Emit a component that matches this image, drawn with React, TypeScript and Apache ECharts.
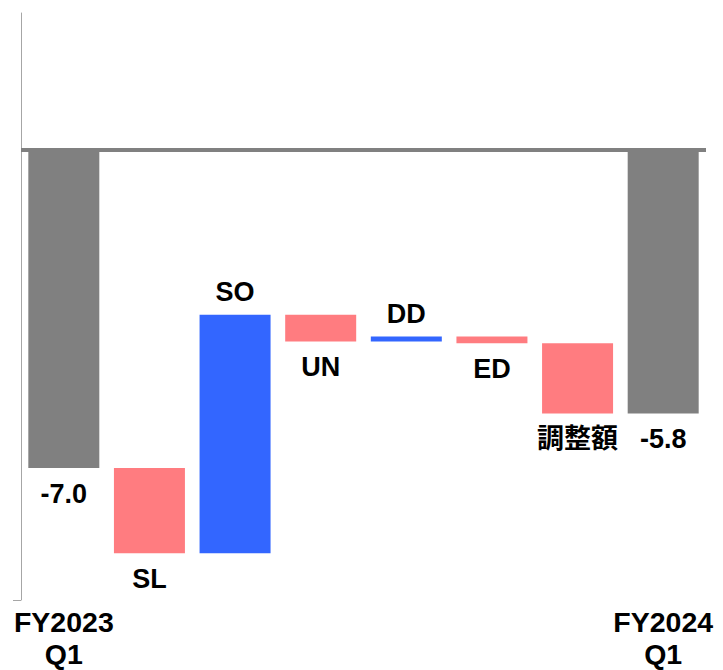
import React, { useEffect, useRef } from "react";
import * as echarts from "echarts";

const categories = ["FY2023\nQ1", "SL", "SO", "UN", "DD", "ED", "調整額", "FY2024\nQ1"];
// first and last are totals, the rest are changes
const values = [-7.0, -1.87, 5.24, -0.59, 0.11, -0.15, -1.54, -5.8];
const isTotal = [true, false, false, false, false, false, false, true];
const valueLabels = ["-7.0", "SL", "SO", "UN", "DD", "ED", "調整額", "-5.8"];
const labelSides = ["bottom", "bottom", "top", "bottom", "top", "bottom", "bottom", "bottom"];
const axisLabelLines = [["FY2023", "Q1"], [], [], [], [], [], [], ["FY2024", "Q1"]];

const GRAY = "#808080";
const PINK = "#FF7C80";
const BLUE = "#3366FF";
const FONT = "'Liberation Sans', Arial, 'Noto Sans CJK JP', sans-serif";

export default function App() {
  const ref = useRef<HTMLDivElement>(null);
  useEffect(() => {
    document.body.style.margin = "0";
    if (!ref.current) return;
    const chart = echarts.init(ref.current, null, { renderer: "svg" });

    // build waterfall: transparent base (edge nearer zero) + visible length
    const base: number[] = [];
    const vis: any[] = [];
    let cum = 0;
    values.forEach((v, i) => {
      let top: number, bottom: number, color: string;
      if (isTotal[i]) {
        top = 0;
        bottom = v;
        cum = v;
        color = GRAY;
      } else {
        const next = cum + v;
        top = Math.max(cum, next);
        bottom = Math.min(cum, next);
        color = v < 0 ? PINK : BLUE;
        cum = next;
      }
      // all bars lie below zero here
      base.push(top);
      vis.push({
        value: bottom - top,
        itemStyle: { color },
        label: {
          show: true,
          position: labelSides[i],
          distance: labelSides[i] === "top" ? 9 : 12,
          formatter: valueLabels[i],
        },
      });
    });

    const textStyle = { color: "#000", fontWeight: "bold", fontSize: 28.5, fontFamily: FONT };

    chart.setOption({
      animation: false,
      grid: { left: 21, right: 17, top: 13, bottom: 70, containLabel: false, outerBoundsMode: "none" },
      xAxis: {
        type: "category",
        data: categories,
        axisLine: { show: false, onZero: false },
        axisTick: { show: false },
        axisLabel: {
          interval: 0,
          margin: 2,
          formatter: (_v: string, idx: number) => {
            const l = axisLabelLines[idx];
            return l.length ? `{a|${l[0]}}\n{b|${l[1]}}` : "";
          },
          ...textStyle,
          rich: {
            a: { ...textStyle, lineHeight: 39 },
            b: { ...textStyle, lineHeight: 25 },
          },
        },
      },
      yAxis: {
        type: "value",
        min: -9.9,
        max: 3,
        axisLine: { show: true, lineStyle: { color: "#A6A6A6", width: 1 } },
        axisTick: { show: true, customValues: [-9.9], length: 8, lineStyle: { color: "#A6A6A6" } },
        axisLabel: { show: false },
        splitLine: { show: false },
      },
      series: [
        {
          type: "bar",
          stack: "w",
          data: base,
          barWidth: 71,
          itemStyle: { color: "transparent" },
          silent: true,
          markLine: {
            silent: true,
            symbol: "none",
            label: { show: false },
            lineStyle: { color: GRAY, width: 4, type: "solid" },
            data: [{ yAxis: 0 }],
          },
        },
        {
          type: "bar",
          stack: "w",
          data: vis,
          barWidth: 71,
          label: {
            color: "#000",
            fontWeight: "bold",
            fontSize: 27,
            fontFamily: FONT,
          },
        },
      ],
    });
    return () => chart.dispose();
  }, []);
  return <div ref={ref} style={{ width: 723, height: 670 }} />;
}
